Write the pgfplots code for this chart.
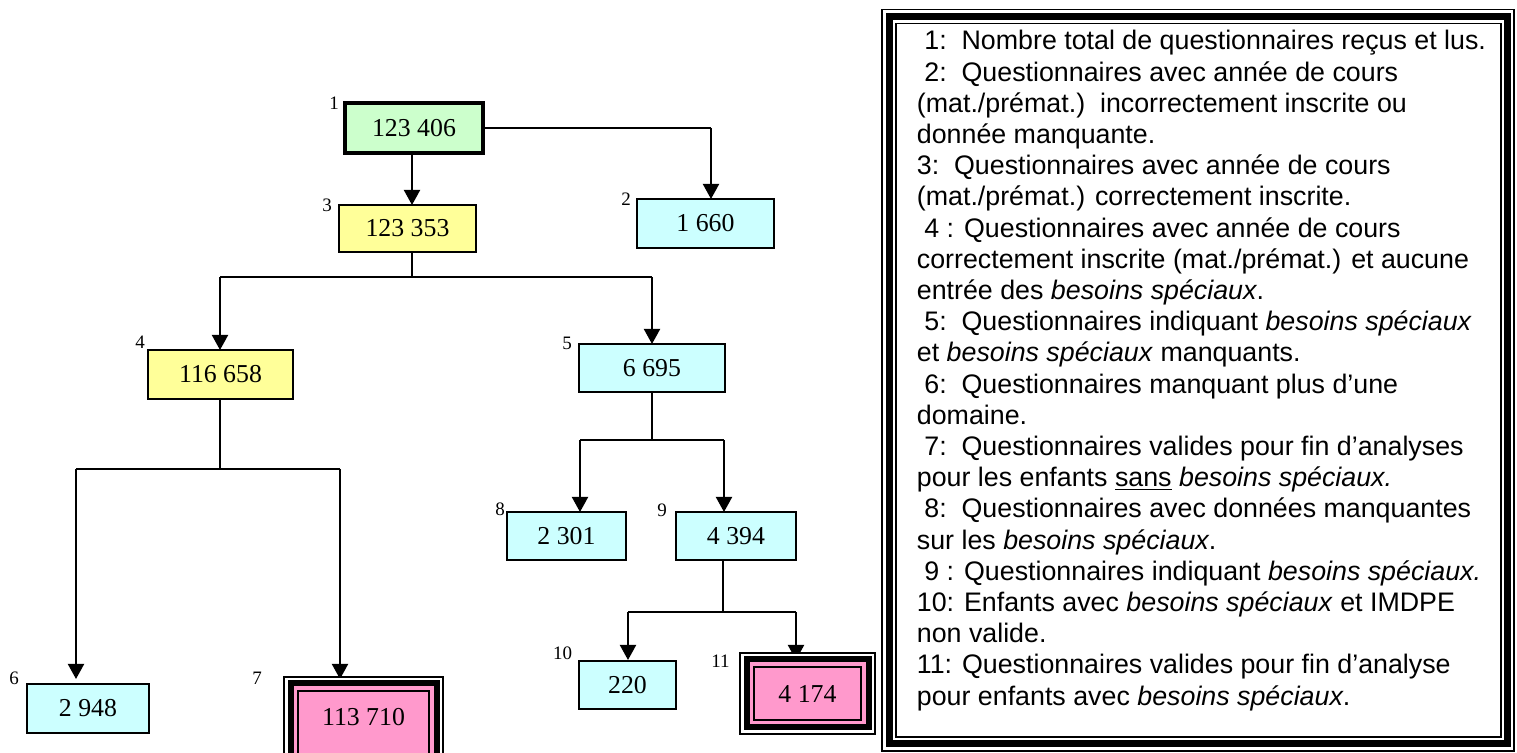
\documentclass[border=0pt]{standalone}
\usepackage{fontspec}
\setmainfont{Liberation Serif}
\newfontfamily\arial{Liberation Sans}
\usepackage{pgfplots}
\pgfplotsset{compat=1.18}
\usetikzlibrary{arrows.meta}
\definecolor{bgreen}{HTML}{CCFFCC}
\definecolor{byellow}{HTML}{FFFF99}
\definecolor{bcyan}{HTML}{CCFFFF}
\definecolor{bpink}{HTML}{FF99CC}
\newcommand{\numf}{\fontsize{12.9}{15}\selectfont}
\newcommand{\labf}{\fontsize{9.5}{11}\selectfont}
\newcommand{\legf}{\arial\fontsize{13.4}{16}\selectfont}
\tikzset{
  conn/.style={draw=black, line width=1pt},
  arr/.style={draw=black, line width=1pt, -{Triangle[length=7.5pt,width=8pt]}},
  bx/.style={draw=black, line width=1pt},
  lab/.style={inner sep=0pt, anchor=center, font=\labf},
  num/.style={inner sep=0pt, anchor=center, font=\numf},
  leg/.style={inner sep=0pt, anchor=base west, font=\legf},
}
\begin{document}
\begin{tikzpicture}
\begin{axis}[
  x=0.5pt, y=0.5pt, y dir=reverse,
  xmin=0, xmax=1517, ymin=0, ymax=753,
  hide axis, clip=false,
]
\coordinate (bbA) at (axis cs:0,0);
\coordinate (bbB) at (axis cs:1517,753);

% ---- connectors ----
\addplot[conn] coordinates {(483,128) (711,128)};
\addplot[arr] coordinates {(711,128) (711,199)};
\addplot[arr] coordinates {(412,153) (412,205)};
\addplot[conn] coordinates {(412,252) (412,277)};
\addplot[conn] coordinates {(220,277) (652,277)};
\addplot[arr] coordinates {(220,277) (220,350)};
\addplot[arr] coordinates {(652,277) (652,344)};
\addplot[conn] coordinates {(220,399) (220,469)};
\addplot[conn] coordinates {(76,469) (340,469)};
\addplot[arr] coordinates {(76,469) (76,679)};
\addplot[arr] coordinates {(340,469) (340,679)};
\addplot[conn] coordinates {(652,392) (652,440)};
\addplot[conn] coordinates {(580,440) (724,440)};
\addplot[arr] coordinates {(580,440) (580,512)};
\addplot[arr] coordinates {(724,440) (724,512)};
\addplot[conn] coordinates {(723,560) (723,612)};
\addplot[conn] coordinates {(628,612) (796,612)};
\addplot[arr] coordinates {(628,612) (628,660)};
\addplot[arr] coordinates {(796,612) (796,660)};

% ---- simple boxes ----
\addplot[bx, line width=2pt, fill=bgreen] coordinates {(345,103) (483,103) (483,153) (345,153)} -- cycle;
\addplot[bx, fill=byellow] coordinates {(339,205) (476,205) (476,252) (339,252)} -- cycle;
\addplot[bx, fill=bcyan] coordinates {(637,199) (774,199) (774,248) (637,248)} -- cycle;
\addplot[bx, fill=byellow] coordinates {(148,350) (293,350) (293,399) (148,399)} -- cycle;
\addplot[bx, fill=bcyan] coordinates {(579,344) (725,344) (725,392) (579,392)} -- cycle;
\addplot[bx, fill=bcyan] coordinates {(507,512) (626,512) (626,560) (507,560)} -- cycle;
\addplot[bx, fill=bcyan] coordinates {(676,512) (796,512) (796,560) (676,560)} -- cycle;
\addplot[bx, fill=bcyan] coordinates {(27,684) (149,684) (149,733) (27,733)} -- cycle;
\addplot[bx, fill=bcyan] coordinates {(579,661) (676,661) (676,709) (579,709)} -- cycle;

% ---- triple box 7 ----
\addplot[draw=black, line width=0.9pt, fill=white] coordinates {(284,677) (443,677) (443,800) (284,800)} -- cycle;
\addplot[draw=black, line width=3pt, fill=bpink] coordinates {(290.5,683.5) (436.5,683.5) (436.5,800) (290.5,800)} -- cycle;
\addplot[draw=black, line width=0.9pt] coordinates {(298,691) (429,691) (429,800) (298,800)} -- cycle;
% ---- triple box 11 ----
\addplot[draw=black, line width=0.9pt, fill=white] coordinates {(740,653) (875,653) (875,734) (740,734)} -- cycle;
\addplot[draw=black, line width=3pt, fill=bpink] coordinates {(746.5,659.5) (868.5,659.5) (868.5,727.5) (746.5,727.5)} -- cycle;
\addplot[draw=black, line width=0.9pt] coordinates {(754,667) (861,667) (861,720) (754,720)} -- cycle;

% ---- legend frame ----
\addplot[draw=black, line width=0.8pt] coordinates {(882,9.5) (1514,9.5) (1514,751) (882,751)} -- cycle;
\addplot[draw=black, line width=3.5pt] coordinates {(889.5,17) (1507.5,17) (1507.5,743.5) (889.5,743.5)} -- cycle;
\addplot[draw=black, line width=0.8pt] coordinates {(896,23.5) (1501,23.5) (1501,737) (896,737)} -- cycle;

% ---- box numbers ----
\node[num] at (axis cs:414,128) {123 406};
\node[num] at (axis cs:407.5,228.5) {123 353};
\node[num] at (axis cs:705.5,223.5) {1 660};
\node[num] at (axis cs:220.5,374.5) {116 658};
\node[num] at (axis cs:652,368) {6 695};
\node[num] at (axis cs:566.5,536) {2 301};
\node[num] at (axis cs:736,536) {4 394};
\node[num] at (axis cs:88,708.5) {2 948};
\node[num] at (axis cs:363.5,717) {113 710};
\node[num] at (axis cs:627.5,685) {220};
\node[num] at (axis cs:807.5,694) {4 174};

% ---- box labels ----
\node[lab] at (axis cs:334,103) {1};
\node[lab] at (axis cs:327,205) {3};
\node[lab] at (axis cs:626,199) {2};
\node[lab] at (axis cs:140,342) {4};
\node[lab] at (axis cs:567,343) {5};
\node[lab] at (axis cs:500,509) {8};
\node[lab] at (axis cs:662,510) {9};
\node[lab] at (axis cs:14,678) {6};
\node[lab] at (axis cs:257,678) {7};
\node[lab] at (axis cs:562.5,653) {10};
\node[lab] at (axis cs:720.5,661) {11};

% ---- legend text ----
\node[leg] at (axis cs:924,50) {1:~~Nombre total de questionnaires reçus et lus.};
\node[leg] at (axis cs:924,81.2) {2:~~Questionnaires avec année de cours};
\node[leg] at (axis cs:916.5,112.4) {(mat./prémat.)~~incorrectement inscrite ou};
\node[leg] at (axis cs:916.5,143.6) {donnée manquante.};
\node[leg] at (axis cs:916.5,174.8) {3:~~Questionnaires avec année de cours};
\node[leg] at (axis cs:916.5,206) {(mat./prémat.) correctement inscrite.};
\node[leg] at (axis cs:924,237.2) {4 : Questionnaires avec année de cours};
\node[leg] at (axis cs:916.5,268.4) {correctement inscrite (mat./prémat.) et aucune};
\node[leg] at (axis cs:916.5,299.6) {entrée des \textit{besoins spéciaux}.};
\node[leg] at (axis cs:924,330.8) {5:~~Questionnaires indiquant \textit{besoins spéciaux}};
\node[leg] at (axis cs:916.5,362) {et \textit{besoins spéciaux} manquants.};
\node[leg] at (axis cs:924,393.2) {6:~~Questionnaires manquant plus d’une};
\node[leg] at (axis cs:916.5,424.4) {domaine.};
\node[leg] at (axis cs:924,455.6) {7:~~Questionnaires valides pour fin d’analyses};
\node[leg] at (axis cs:916.5,486.8) {pour les enfants \underline{sans} \textit{besoins spéciaux.}};
\node[leg] at (axis cs:924,518) {8:~~Questionnaires avec données manquantes};
\node[leg] at (axis cs:916.5,549.2) {sur les \textit{besoins spéciaux}.};
\node[leg] at (axis cs:924,580.4) {9 : Questionnaires indiquant \textit{besoins spéciaux.}};
\node[leg] at (axis cs:916.5,611.6) {10: Enfants avec \textit{besoins spéciaux} et IMDPE};
\node[leg] at (axis cs:916.5,642.8) {non valide.};
\node[leg] at (axis cs:916.5,674) {11: Questionnaires valides pour fin d’analyse};
\node[leg] at (axis cs:916.5,705.2) {pour enfants avec \textit{besoins spéciaux}.};
\end{axis}
\pgfresetboundingbox
\useasboundingbox (bbA) rectangle (bbB);
\end{tikzpicture}
\end{document}
